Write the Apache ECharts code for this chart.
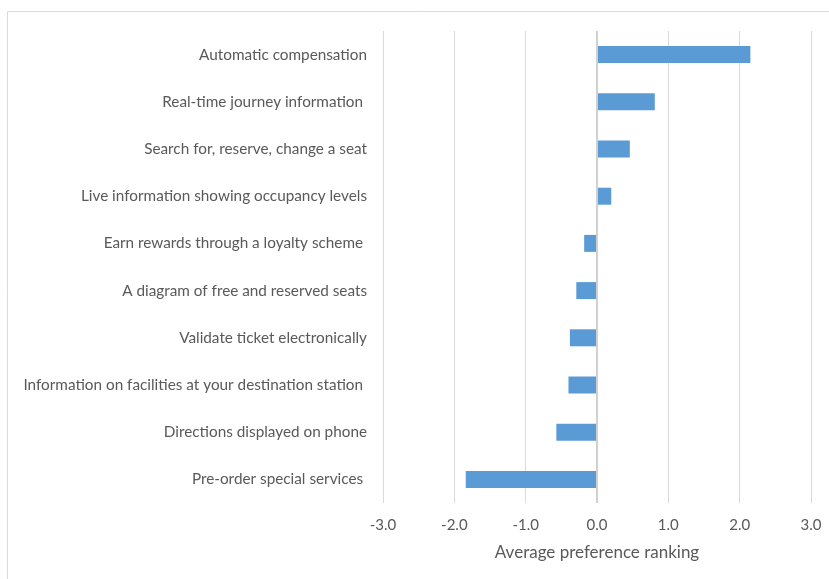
<!DOCTYPE html>
<html>
<head>
<meta charset="utf-8">
<script src="https://cdn.jsdelivr.net/npm/echarts@6/dist/echarts.min.js"></script>
<style>
  html, body { margin: 0; padding: 0; background: #fff; }
  #chart { width: 829px; height: 579px; }
</style>
</head>
<body>
<div id="chart"></div>
<script>
// Features, listed top to bottom
const features = [
  'Automatic compensation',
  'Real-time journey information ',
  'Search for, reserve, change a seat',
  'Live information showing occupancy levels',
  'Earn rewards through a loyalty scheme ',
  'A diagram of free and reserved seats',
  'Validate ticket electronically',
  'Information on facilities at your destination station ',
  'Directions displayed on phone',
  'Pre-order special services '
];

// Average preference ranking per feature
const ranking = [2.15, 0.81, 0.46, 0.20, -0.18, -0.29, -0.38, -0.40, -0.57, -1.84];

const axisMin = -3;
const axisMax = 3;
const axisStep = 1;
const axisTitle = 'Average preference ranking';

const chart = echarts.init(document.getElementById('chart'), null, { renderer: 'canvas' });

const textColor = '#595959';
const fontFamily = 'Lato, "Open Sans", sans-serif';

chart.setOption({
  backgroundColor: '#ffffff',
  animation: false,
  graphic: [{
    type: 'rect',
    shape: { x: 7.5, y: 11.5, width: 840, height: 600 },
    style: { fill: 'none', stroke: '#d9d9d9', lineWidth: 1 },
    silent: true,
    z: -1
  }],
  grid: { left: 383, right: 18, top: 31, bottom: 76, containLabel: false },
  xAxis: {
    type: 'value',
    min: axisMin,
    max: axisMax,
    interval: axisStep,
    name: axisTitle,
    nameLocation: 'middle',
    nameGap: 41,
    nameTextStyle: { color: textColor, fontSize: 17, fontFamily: fontFamily },
    axisLine: { show: false },
    axisTick: { show: false },
    axisLabel: {
      color: textColor, fontSize: 15, fontFamily: fontFamily, margin: 15,
      formatter: v => v.toFixed(1)
    },
    splitLine: { show: true, lineStyle: { color: '#d9d9d9', width: 1 } }
  },
  yAxis: {
    type: 'category',
    data: features,
    inverse: true,
    axisLine: { show: false },
    axisTick: { show: false },
    axisLabel: { color: textColor, fontSize: 15.3, fontFamily: fontFamily, margin: 16 },
    splitLine: { show: false }
  },
  series: [{
    type: 'bar',
    data: ranking,
    barWidth: 17,
    itemStyle: { color: '#5b9bd5' },
    markLine: {
      silent: true,
      symbol: 'none',
      label: { show: false },
      lineStyle: { color: '#d0d0d0', width: 2, type: 'solid' },
      data: [{ xAxis: 0 }]
    },
    z: 3
  }]
});
</script>
</body>
</html>
